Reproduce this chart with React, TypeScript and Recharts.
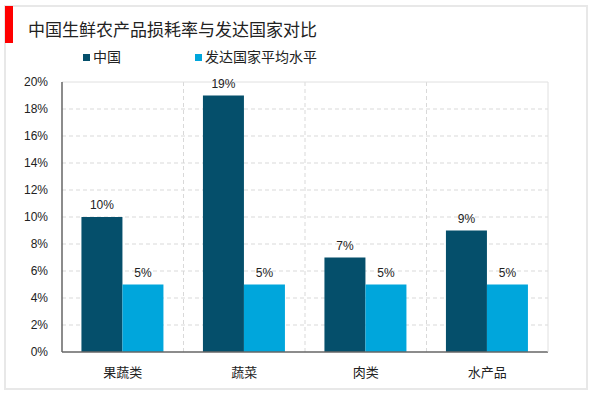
import { Bar, BarChart, CartesianGrid, LabelList, XAxis, YAxis } from "recharts";

const categories = ["果蔬类", "蔬菜", "肉类", "水产品"];
const chinaValues = [0.1, 0.19, 0.07, 0.09];
const developedValues = [0.05, 0.05, 0.05, 0.05];
const yTicks = [0, 0.02, 0.04, 0.06, 0.08, 0.1, 0.12, 0.14, 0.16, 0.18, 0.2];

const SERIES = [
  { key: "china", name: "中国", color: "#054F6B" },
  { key: "developed", name: "发达国家平均水平", color: "#00A6DC" },
];

const data = categories.map((name, i) => ({
  name,
  china: chinaValues[i],
  developed: developedValues[i],
}));

const FONT = '"Liberation Sans", Arial, "Noto Sans CJK SC", sans-serif';
const pct = (v: any) => `${Math.round(Number(v) * 100)}%`;

function ChartLegend() {
  const pos = [83, 195];
  return (
    <>
      {SERIES.map((s, i) => (
        <div
          key={s.key}
          style={{
            position: "absolute",
            left: pos[i],
            top: 48,
            display: "flex",
            alignItems: "center",
            fontSize: 14,
            lineHeight: "18px",
            color: "#222",
            whiteSpace: "nowrap",
          }}
        >
          <span style={{ width: 7, height: 7, background: s.color, marginRight: 3 }} />
          {s.name}
        </div>
      ))}
    </>
  );
}

export default function App() {
  return (
    <div style={{ position: "absolute", left: 0, top: 0, width: 600, height: 393, background: "#fff", fontFamily: FONT }}>
      <div style={{ position: "absolute", left: 4, top: 5, width: 580, height: 381, border: "2px solid #e8e8e8" }} />
      <div style={{ position: "absolute", left: 5, top: 6, width: 8, height: 37, background: "#ff0000" }} />
      <div style={{ position: "absolute", left: 28, top: 16, fontSize: 17, color: "#222", whiteSpace: "nowrap" }}>
        中国生鲜农产品损耗率与发达国家对比
      </div>
      <ChartLegend />
      <div style={{ position: "absolute", left: 0, top: 0 }}>
        <BarChart
          width={600}
          height={393}
          data={data}
          margin={{ top: 81, right: 51, left: 12, bottom: 11 }}
          barCategoryGap="16%"
          barGap={0}
          style={{ fontFamily: FONT }}
        >
          <CartesianGrid
            xAxisId="main"
            yAxisId="main"
            stroke="#d9d9d9"
            strokeDasharray="4 3"
            horizontalValues={yTicks.slice(1, -1)}
            verticalCoordinatesGenerator={({ offset }: any) =>
              categories.slice(1).map((_, i) => offset.left + ((i + 1) * offset.width) / categories.length)
            }
          />
          <XAxis
            dataKey="name"
            xAxisId="main"
            axisLine={{ stroke: "#666", strokeWidth: 1.5 }}
            tickLine={false}
            tick={{ fontSize: 13, fill: "#222" }}
            tickMargin={10}
            height={30}
          />
          <XAxis xAxisId="top" orientation="top" dataKey="name" axisLine={{ stroke: "#e0e0e0" }} tick={false} tickLine={false} height={1} />
          <YAxis
            yAxisId="main"
            domain={[0, 0.2]}
            ticks={yTicks}
            tickFormatter={pct}
            axisLine={{ stroke: "#666", strokeWidth: 1.5 }}
            tickLine={false}
            tick={{ fontSize: 12, fill: "#222" }}
            tickMargin={8}
            width={50}
            interval={0}
          />
          <YAxis yAxisId="right" orientation="right" domain={[0, 0.2]} axisLine={{ stroke: "#e0e0e0" }} tick={false} tickLine={false} width={1} />
          {SERIES.map((s) => (
            <Bar
              key={s.key}
              dataKey={s.key}
              name={s.name}
              fill={s.color}
              xAxisId="main"
              yAxisId="main"
              isAnimationActive={false}
            >
              <LabelList dataKey={s.key} position="top" offset={8} formatter={pct} style={{ fontSize: 12, fill: "#222" }} />
            </Bar>
          ))}
        </BarChart>
      </div>
    </div>
  );
}
